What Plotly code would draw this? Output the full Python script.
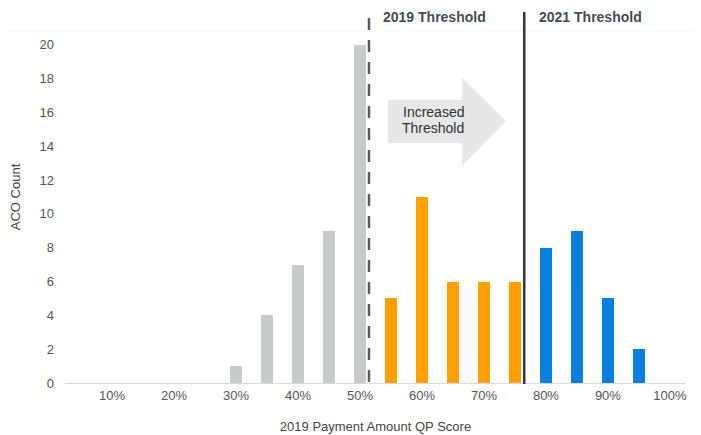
import plotly.graph_objects as go

# Data
gray_x = [30, 35, 40, 45, 50]
gray_y = [1, 4, 7, 9, 20]
orange_x = [55, 60, 65, 70, 75]
orange_y = [5, 11, 6, 6, 6]
blue_x = [80, 85, 90, 95]
blue_y = [8, 9, 5, 2]
tick_vals = [10, 20, 30, 40, 50, 60, 70, 80, 90, 100]
tick_text = [f"{v}%" for v in tick_vals]
threshold_2019 = 51.45
threshold_2021 = 76.5

FONT = "Liberation Sans, Arial, sans-serif"

fig = go.Figure()
for xs, ys, col in [(gray_x, gray_y, "#c8cbcc"), (orange_x, orange_y, "#ffa000"), (blue_x, blue_y, "#0a7fe0")]:
    fig.add_trace(go.Bar(x=xs, y=ys, width=2.0, marker=dict(color=col, line=dict(width=0)),
                         showlegend=False, hoverinfo="x+y"))

shapes = [
    # faint top separator
    dict(type="line", xref="paper", yref="paper", x0=-0.1, x1=1.03, y0=0.946, y1=0.946,
         line=dict(color="#f3f3f3", width=1), layer="below"),
    # arrow
    dict(type="path", xref="x", yref="y",
         path="M 54.5 16.75 L 66.45 16.75 L 66.45 18.05 L 73.55 15.5 L 66.45 12.84 L 66.45 14.2 L 54.5 14.2 Z",
         fillcolor="#e6e7e8", line=dict(width=0), layer="below"),
    dict(type="line", xref="x", yref="paper", x0=threshold_2019, x1=threshold_2019, y0=0.003, y1=1.003,
         line=dict(color="#5a5a5a", width=2.5, dash="12px,10px")),
    dict(type="line", xref="x", yref="paper", x0=threshold_2021, x1=threshold_2021, y0=-0.003, y1=0.997,
         line=dict(color="#313941", width=2.5)),
]

annotations = [
    dict(x=53.4, y=0.984, xref="x", yref="paper", text="<b>2019 Threshold</b>", showarrow=False,
         xanchor="left", yanchor="middle", font=dict(family=FONT, size=14, color="#464b52")),
    dict(x=78.5, y=0.984, xref="x", yref="paper", text="<b>2021 Threshold</b>", showarrow=False,
         xanchor="left", yanchor="middle", font=dict(family=FONT, size=14, color="#464b52")),
    dict(x=61.8, y=16.0, xref="x", yref="y", text="Increased", showarrow=False,
         xanchor="center", yanchor="middle", font=dict(family=FONT, size=14, color="#333333")),
    dict(x=61.8, y=15.1, xref="x", yref="y", text="Threshold", showarrow=False,
         xanchor="center", yanchor="middle", font=dict(family=FONT, size=14, color="#333333")),
]

# The page body has an 8px margin, so the figure is sized/offset to compensate.
fig.update_layout(
    width=693, height=427,
    margin=dict(l=57, r=15, t=3, b=52),
    paper_bgcolor="white", plot_bgcolor="white",
    font=dict(family=FONT, size=13, color="#555555"),
    shapes=shapes, annotations=annotations,
    bargap=0,
    xaxis=dict(range=[2.4, 102.6], tickvals=tick_vals, ticktext=tick_text, showgrid=False,
               zeroline=False, showline=True, linecolor="#d9d9d9", linewidth=1, ticks="",
               automargin=False,
               title=dict(text="2019 Payment Amount QP Score", standoff=20,
                          font=dict(family=FONT, size=13, color="#444444")),
               tickfont=dict(family=FONT, size=13, color="#555555")),
    yaxis=dict(range=[0, 22], tickvals=list(range(0, 21, 2)), showgrid=False, zeroline=False,
               showline=False, ticks="", ticklabelstandoff=10, automargin=False,
               title=dict(text="ACO Count", standoff=19,
                          font=dict(family=FONT, size=13, color="#444444")),
               tickfont=dict(family=FONT, size=13, color="#555555")),
)

fig.write_html("out.html")
